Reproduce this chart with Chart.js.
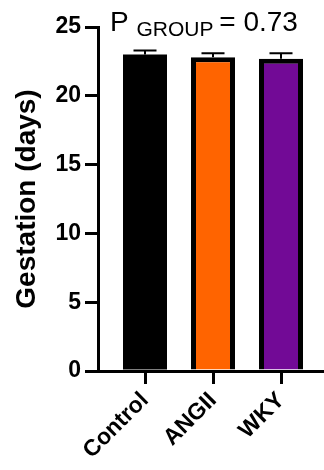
<!DOCTYPE html>
<html>
<head>
<meta charset="utf-8">
<script src="https://cdn.jsdelivr.net/npm/chart.js@4"></script>
<style>
  html, body { margin: 0; padding: 0; background: #fff; }
  #wrap { position: relative; width: 324px; height: 470px; }
</style>
</head>
<body>
<div id="wrap"><canvas id="gestChart" width="324" height="470"></canvas></div>
<script>
// データ
var categories = ['Control', 'ANGII', 'WKY'];
var gestation = [23.0, 22.8, 22.7];
var gestationSem = [0.3, 0.3, 0.4];
var barColors = ['#000000', '#ff6400', '#720a96'];
var yTicks = [0, 5, 10, 15, 20, 25];
var pTitle = ['P', 'GROUP', '= 0.73'];

var FONT = "'Liberation Sans', Arial, sans-serif";

// エラーバー (上側のみ)
var errorBars = {
    id: 'errorBars',
    afterDatasetsDraw: function (chart) {
        var ctx = chart.ctx;
        var y = chart.scales.y;
        var meta = chart.getDatasetMeta(0);
        ctx.save();
        ctx.strokeStyle = '#000';
        ctx.lineWidth = 2;
        meta.data.forEach(function (bar, i) {
            var top = y.getPixelForValue(gestation[i] + gestationSem[i]);
            var base = y.getPixelForValue(gestation[i]);
            ctx.beginPath();
            ctx.moveTo(bar.x, base);
            ctx.lineTo(bar.x, top);
            ctx.moveTo(bar.x - 11.5, top);
            ctx.lineTo(bar.x + 11.5, top);
            ctx.stroke();
        });
        ctx.restore();
    }
};

// タイトル (P GROUP = 0.73)
var pTitlePlugin = {
    id: 'pTitle',
    afterDraw: function (chart) {
        var ctx = chart.ctx;
        ctx.save();
        ctx.fillStyle = '#000';
        ctx.textBaseline = 'alphabetic';
        var x = 110;
        ctx.font = '28px ' + FONT;
        ctx.fillText(pTitle[0], x, 31);
        x += ctx.measureText(pTitle[0] + ' ').width;
        ctx.font = '21px ' + FONT;
        ctx.fillText(pTitle[1], x, 36);
        x += ctx.measureText(pTitle[1] + ' ').width;
        ctx.font = '28px ' + FONT;
        ctx.fillText(pTitle[2], x, 31);
        ctx.restore();
    }
};

var drawChart = function (canvasId) {
    var ctx = document.getElementById(canvasId);
    new Chart(ctx, {
        type: 'bar',
        data: {
            datasets: [{
                data: gestation.map(function (v, i) { return { x: i, y: v }; }),
                backgroundColor: barColors,
                borderColor: '#000',
                // 黒いバーは枠線なし (継ぎ目防止)
                borderWidth: [0, 5, 5],
                borderSkipped: 'start',
                inflateAmount: 0,
                barPercentage: 44 / 68,
                categoryPercentage: 1
            }]
        },
        options: {
            responsive: false,
            animation: false,
            layout: { padding: { top: 27, right: 0, left: 0, bottom: 0 } },
            plugins: {
                legend: { display: false },
                tooltip: { enabled: false }
            },
            scales: {
                x: {
                    type: 'linear',
                    offset: false,
                    min: -47 / 68,
                    max: 179 / 68,
                    afterBuildTicks: function (scale) {
                        scale.ticks = categories.map(function (c, i) { return { value: i }; });
                    },
                    afterFit: function (scale) { scale.height = 99; },
                    border: { display: true, color: '#000', width: 3 },
                    grid: { offset: false, drawOnChartArea: false, drawTicks: true, tickLength: 13, lineWidth: 3, color: '#000' },
                    ticks: {
                        autoSkip: false,
                        minRotation: 45,
                        maxRotation: 45,
                        padding: 3,
                        color: '#000',
                        font: { family: FONT, size: 23, weight: 'bold' },
                        callback: function (v) { return categories[v]; }
                    }
                },
                y: {
                    min: 0,
                    max: 25,
                    afterBuildTicks: function (scale) {
                        scale.ticks = yTicks.map(function (v) { return { value: v }; });
                    },
                    afterFit: function (scale) { scale.width = 98; },
                    border: { display: true, color: '#000', width: 3 },
                    grid: { drawOnChartArea: false, drawTicks: true, tickLength: 13, lineWidth: 3, color: '#000' },
                    ticks: {
                        padding: 4,
                        color: '#000',
                        font: { family: FONT, size: 23, weight: 'bold' }
                    },
                    title: {
                        display: true,
                        text: 'Gestation (days)',
                        color: '#000',
                        padding: { top: 10, bottom: 4 },
                        font: { family: FONT, size: 28, weight: 'bold' }
                    }
                }
            }
        },
        plugins: [errorBars, pTitlePlugin]
    });
};

drawChart('gestChart');
</script>
</body>
</html>
